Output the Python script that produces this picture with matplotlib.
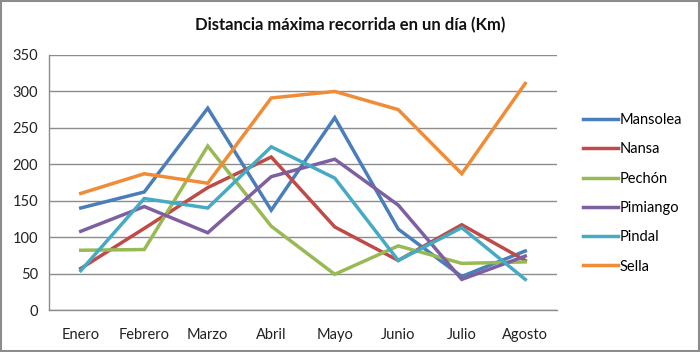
import matplotlib
matplotlib.use("Agg")
import matplotlib.pyplot as plt
from matplotlib.patches import Rectangle

plt.rcParams['font.family'] = ['Lato', 'DejaVu Sans']

months = ["Enero", "Febrero", "Marzo", "Abril", "Mayo", "Junio", "Julio", "Agosto"]
mansolea = [140, 162, 277, 137, 264, 111, 46, 81]
nansa = [57, 112, 168, 210, 114, 68, 117, 68]
pechon = [82, 83, 225, 115, 49, 88, 64, 66]
pimiango = [108, 142, 106, 183, 207, 144, 42, 74]
pindal = [54, 153, 140, 224, 181, 68, 113, 42]
sella = [160, 187, 174, 291, 300, 275, 187, 311]

series = [
    ("Mansolea", mansolea, "#4A7EBB"),
    ("Nansa", nansa, "#BE4B48"),
    ("Pechón", pechon, "#98B954"),
    ("Pimiango", pimiango, "#7D60A0"),
    ("Pindal", pindal, "#46AAC5"),
    ("Sella", sella, "#F08C38"),
]

W, H = 700, 352
fig = plt.figure(figsize=(W/100, H/100), dpi=100)
ax = fig.add_axes([49/W, 1-310/H, (557-49)/W, (310-55)/H])

x = list(range(len(months)))
for name, vals, col in series:
    ax.plot(x, vals, color=col, lw=2.5, label=name, solid_joinstyle='miter')

ax.set_xlim(-0.5, len(months)-0.5)
ax.set_ylim(0, 350)
ax.set_yticks(range(0, 351, 50))
ax.set_xticks(x)
ax.set_xticklabels(months)
ax.tick_params(axis='both', length=0, labelsize=10.5, colors='#222222')
ax.tick_params(axis='x', pad=13)
ax.tick_params(axis='y', pad=8)
ax.grid(axis='y', color='#8C8C8C', lw=1)
ax.set_axisbelow(True)
for s in ['top', 'right']:
    ax.spines[s].set_visible(False)
for s in ['left', 'bottom']:
    ax.spines[s].set_color('#8C8C8C')
    ax.spines[s].set_linewidth(1)

fig.text(350/W, 1-25/H, "Distancia máxima recorrida en un día (Km)",
         ha='center', va='center', fontsize=12, fontweight='bold', color='#111111')

leg = ax.legend(loc='upper left', bbox_to_anchor=(583/W, 1-113/H), bbox_transform=fig.transFigure,
                frameon=False, fontsize=10.5, handlelength=2.4, handletextpad=0.1,
                labelspacing=1.05, borderpad=0, borderaxespad=0)

fig.patches.append(Rectangle((1/W, 1/H), 1-2/W, 1-2/H, transform=fig.transFigure,
                             fill=False, edgecolor='#8C8C8C', lw=1.5))

fig.savefig("out.png", dpi=100)
